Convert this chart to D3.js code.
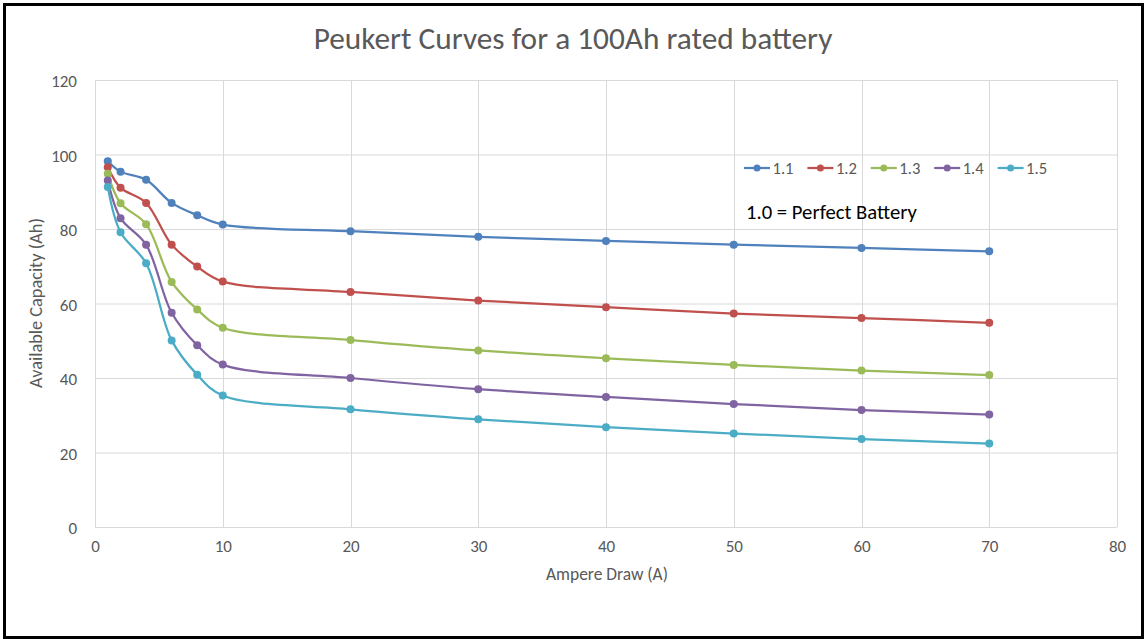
<!DOCTYPE html>
<html>
<head>
<meta charset="utf-8">
<script src="https://cdn.jsdelivr.net/npm/d3@7"></script>
<style>
  html, body { margin: 0; padding: 0; background: #fff; }
  svg { display: block; }
  text { font-family: Calibri, Carlito, "Open Sans", sans-serif; }
</style>
</head>
<body>
<script>
// Ampere draw values (A) at which available capacity is computed
const ampereDraw = [1, 2, 4, 6, 8, 10, 20, 30, 40, 50, 60, 70];

// Peukert exponents shown in the legend
const exponents = ["1.1", "1.2", "1.3", "1.4", "1.5"];

// Available capacity (Ah) for each exponent
const cap11 = [98.2, 95.4, 93.2, 87.0, 83.7, 81.2, 79.4, 77.9, 76.8, 75.8, 74.9, 74.0];
const cap12 = [96.6, 91.1, 87.0, 75.8, 69.9, 65.9, 63.1, 60.8, 59.0, 57.3, 56.1, 54.8];
const cap13 = [94.8, 86.9, 81.3, 65.8, 58.4, 53.5, 50.2, 47.4, 45.3, 43.5, 42.0, 40.8];
const cap14 = [93.0, 82.9, 75.8, 57.5, 48.8, 43.6, 40.0, 37.0, 34.9, 33.0, 31.4, 30.2];
const cap15 = [91.3, 79.1, 70.8, 50.1, 40.9, 35.3, 31.6, 28.9, 26.8, 25.1, 23.6, 22.4];

const xTicks = [0, 10, 20, 30, 40, 50, 60, 70, 80];
const yTicks = [0, 20, 40, 60, 80, 100, 120];

const title = "Peukert Curves for a 100Ah rated battery";
const xTitle = "Ampere Draw (A)";
const yTitle = "Available Capacity (Ah)";
const note = "1.0 = Perfect Battery";

const colors = ["#4F81BD", "#C0504D", "#9BBB59", "#8064A2", "#4BACC6"];

const series = exponents.map((k, i) => ({
  name: k,
  color: colors[i],
  values: [cap11, cap12, cap13, cap14, cap15][i].map((v, j) => ({ x: ampereDraw[j], y: v }))
}));

const W = 1144, H = 639;
const plot = { left: 95, right: 1117, top: 80, bottom: 527 };

const svg = d3.select("body").append("svg")
  .attr("width", W).attr("height", H);

svg.append("rect").attr("width", W).attr("height", H).attr("fill", "#fff");

const x = d3.scaleLinear().domain([0, 80]).range([plot.left, plot.right]);
const y = d3.scaleLinear().domain([0, 120]).range([plot.bottom, plot.top]);

const textGray = "#595959";
const gridGray = "#D9D9D9";

// Scale a text element's font size so its rendered width equals `width`
function fitWidth(sel, width) {
  const node = sel.node();
  const fs = parseFloat(sel.style("font-size"));
  const w = node.getComputedTextLength();
  if (w > 0) sel.style("font-size", (fs * width / w).toFixed(2) + "px");
  return sel;
}

// Gridlines
const grid = svg.append("g");
grid.selectAll("line.h").data(yTicks).join("line")
  .attr("x1", plot.left).attr("x2", plot.right)
  .attr("y1", d => y(d) + 0.5).attr("y2", d => y(d) + 0.5)
  .attr("stroke", gridGray).attr("stroke-width", 1);
grid.selectAll("line.v").data(xTicks).join("line")
  .attr("y1", plot.top).attr("y2", plot.bottom)
  .attr("x1", d => Math.round(x(d)) + 0.5).attr("x2", d => Math.round(x(d)) + 0.5)
  .attr("stroke", gridGray).attr("stroke-width", 1);

// Axes (labels only; lines are drawn by the grid)
const xAxis = d3.axisBottom(x).tickValues(xTicks).tickSize(0).tickPadding(13);
const yAxis = d3.axisLeft(y).tickValues(yTicks).tickSize(0).tickPadding(18);

const gx = svg.append("g").attr("transform", `translate(0,${plot.bottom})`).call(xAxis);
const gy = svg.append("g").attr("transform", `translate(${plot.left},0)`).call(yAxis);
[gx, gy].forEach(g => {
  g.select(".domain").remove();
  g.selectAll("text")
    .attr("fill", textGray)
    .style("font-size", "17px")
    .style("font-family", 'Calibri, Carlito, "Open Sans", sans-serif');
});
gy.selectAll("text").attr("dy", "0.4em");

// Series lines
const line = d3.line()
  .x(d => x(d.x)).y(d => y(d.y))
  .curve(d3.curveCatmullRom.alpha(0.5));

const gs = svg.append("g").selectAll("g").data(series).join("g");
gs.append("path")
  .attr("d", d => line(d.values))
  .attr("fill", "none")
  .attr("stroke", d => d.color)
  .attr("stroke-width", 2.25)
  .attr("stroke-linejoin", "round");
gs.selectAll("circle").data(d => d.values.map(v => ({ ...v, color: d.color }))).join("circle")
  .attr("cx", d => x(d.x)).attr("cy", d => y(d.y))
  .attr("r", 4)
  .attr("fill", d => d.color);

// Title
fitWidth(svg.append("text")
  .attr("x", 573).attr("y", 49)
  .attr("text-anchor", "middle")
  .attr("fill", textGray)
  .style("font-size", "28px")
  .text(title), 519);

// Axis titles
fitWidth(svg.append("text")
  .attr("x", 607).attr("y", 580)
  .attr("text-anchor", "middle")
  .attr("fill", textGray)
  .style("font-size", "16px")
  .text(xTitle), 122);

fitWidth(svg.append("text")
  .attr("transform", "translate(42,303) rotate(-90)")
  .attr("text-anchor", "middle")
  .attr("fill", textGray)
  .style("font-size", "16px")
  .text(yTitle), 170);

// Legend
const legend = svg.append("g").attr("transform", "translate(744,168)");
const items = legend.selectAll("g").data(series).join("g")
  .attr("transform", (d, i) => `translate(${i * 63.4},0)`);
items.append("line")
  .attr("x1", 0).attr("x2", 26).attr("y1", 0).attr("y2", 0)
  .attr("stroke", d => d.color).attr("stroke-width", 2.25);
items.append("circle").attr("cx", 13).attr("cy", 0).attr("r", 3.5).attr("fill", d => d.color);
const legendText = items.append("text")
  .attr("x", 28.5).attr("y", 6)
  .attr("fill", textGray)
  .style("font-size", "16px")
  .text(d => d.name);
fitWidth(d3.select(legendText.node()), 21);
legendText.style("font-size", d3.select(legendText.node()).style("font-size"));

// Note
fitWidth(svg.append("text")
  .attr("x", 746).attr("y", 219)
  .attr("fill", "#000")
  .style("font-size", "16px")
  .text(note), 171);

// Frame
svg.append("rect")
  .attr("x", 4.5).attr("y", 4.5)
  .attr("width", 1138).attr("height", 633)
  .attr("fill", "none")
  .attr("stroke", "#000")
  .attr("stroke-width", 3);
</script>
</body>
</html>
